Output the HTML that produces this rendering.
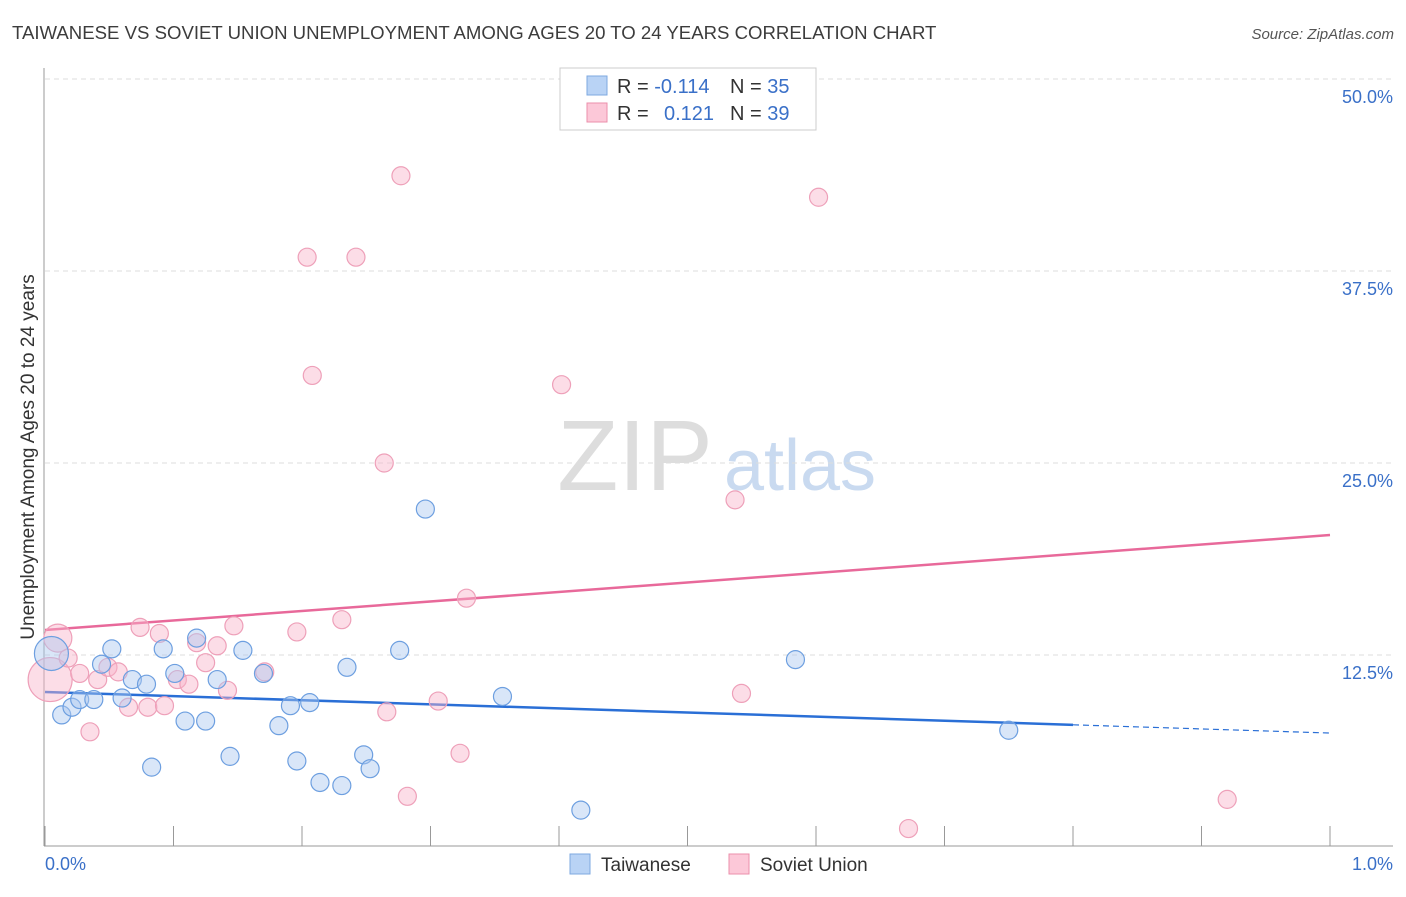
<!DOCTYPE html>
<html><head><meta charset="utf-8">
<style>
body{margin:0;background:#fff;font-family:"Liberation Sans",sans-serif;}
svg text{font-family:"Liberation Sans",sans-serif;}
</style></head>
<body>
<svg id="chart" width="1406" height="892" xmlns="http://www.w3.org/2000/svg">
<text x="12" y="39" font-size="18.6" fill="#3c3c3c">TAIWANESE VS SOVIET UNION UNEMPLOYMENT AMONG AGES 20 TO 24 YEARS CORRELATION CHART</text>
<text x="1394" y="39" font-size="15" fill="#555" font-style="italic" text-anchor="end">Source: ZipAtlas.com</text>
<text transform="translate(34,457) rotate(-90)" font-size="19" fill="#333" text-anchor="middle">Unemployment Among Ages 20 to 24 years</text>
<g>
<text x="635" y="490" font-size="100" fill="#ddd" font-family="Liberation Serif" text-anchor="middle">ZIP</text>
<text x="800" y="490" font-size="72" fill="#c9daf0" text-anchor="middle">atlas</text>
</g>
<g id="grid"></g>
<g id="axes"></g>
<g id="lines"></g>
<g id="points"></g>
<g>
<rect x="560" y="68" width="256" height="62" fill="#fff" stroke="#ccc"/>
<rect x="587" y="76" width="20" height="19" fill="#b9d3f5" stroke="#7ea8e0"/>
<rect x="587" y="103" width="20" height="19" fill="#fcc8d8" stroke="#eb8fab"/>
<text x="617" y="93" font-size="20" fill="#333">R = <tspan fill="#3a70c8">-0.114</tspan></text>
<text x="730" y="93" font-size="20" fill="#333">N = <tspan fill="#3a70c8">35</tspan></text>
<text x="617" y="120" font-size="20" fill="#333">R = </text>
<text x="664" y="120" font-size="20" fill="#3a70c8">0.121</text>
<text x="730" y="120" font-size="20" fill="#333">N = <tspan fill="#3a70c8">39</tspan></text>
</g>
<g>
<rect x="570" y="854" width="20" height="20" fill="#b9d3f5" stroke="#7ea8e0"/>
<text x="601" y="871" font-size="19" fill="#333">Taiwanese</text>
<rect x="729" y="854" width="20" height="20" fill="#fcc8d8" stroke="#eb8fab"/>
<text x="760" y="871" font-size="19" fill="#333">Soviet Union</text>
</g>
</svg>
<script>
const xTickLabels=["0.0%","1.0%"];
const yTicks=[12.5,25,37.5,50];
const yTickLabels=["12.5%","25.0%","37.5%","50.0%"];
const blueX=[0.005,0.013,0.021,0.027,0.038,0.044,0.052,0.060,0.068,0.079,0.083,0.092,0.101,0.109,0.118,0.125,0.134,0.144,0.154,0.170,0.182,0.191,0.196,0.206,0.214,0.231,0.235,0.248,0.253,0.276,0.296,0.356,0.417,0.584,0.750];
const blueY=[12.6,8.6,9.1,9.6,9.6,11.9,12.9,9.7,10.9,10.6,5.2,12.9,11.3,8.2,13.6,8.2,10.9,5.9,12.8,11.3,7.9,9.2,5.6,9.4,4.2,4.0,11.7,6.0,5.1,12.8,22.0,9.8,2.4,12.2,7.6];
const pinkX=[0.004,0.010,0.018,0.027,0.035,0.041,0.049,0.057,0.065,0.074,0.080,0.089,0.093,0.103,0.112,0.118,0.125,0.134,0.142,0.147,0.171,0.196,0.204,0.208,0.231,0.242,0.264,0.266,0.277,0.282,0.306,0.323,0.328,0.402,0.537,0.542,0.602,0.672,0.920];
const pinkY=[10.9,13.6,12.3,11.3,7.5,10.9,11.7,11.4,9.1,14.3,9.1,13.9,9.2,10.9,10.6,13.3,12.0,13.1,10.2,14.4,11.4,14.0,38.4,30.7,14.8,38.4,25.0,8.8,43.7,3.3,9.5,6.1,16.2,30.1,22.6,10.0,42.3,1.2,3.1];
const blueR=[17,9,9,9,9,9,9,9,9,9,9,9,9,9,9,9,9,9,9,9,9,9,9,9,9,9,9,9,9,9,9,9,9,9,9];
const pinkR=[22,14,9,9,9,9,9,9,9,9,9,9,9,9,9,9,9,9,9,9,9,9,9,9,9,9,9,9,9,9,9,9,9,9,9,9,9,9,9];
const blueTrend=[10.09,7.42];
const pinkTrend=[14.13,20.31];
const blueSolidEnd=0.8;

const X=v=>45+v*1285;
const Y=v=>847-v*192/12.5;
const NS="http://www.w3.org/2000/svg";
function mk(tag,attrs,parent){const e=document.createElementNS(NS,tag);for(const k in attrs)e.setAttribute(k,attrs[k]);document.getElementById(parent).appendChild(e);return e;}

yTicks.forEach((t,i)=>{
  const l=mk('line',{x1:45,x2:1393,y1:Y(t),y2:Y(t),stroke:'#ddd','stroke-dasharray':'5,4'},'grid');
  
  
  const tx=mk('text',{x:1393,y:Y(t)+24,'font-size':18,fill:'#3a70c8','text-anchor':'end'},'grid');
  tx.textContent=yTickLabels[i];
  
  
});
const ax=mk('line',{x1:44,x2:44,y1:68,y2:846,stroke:'#999'},'axes');


const bx=mk('line',{x1:44,x2:1393,y1:846,y2:846,stroke:'#999'},'axes');


for(let i=0;i<=10;i++){
  const t=mk('line',{x1:X(i/10),x2:X(i/10),y1:826,y2:846,stroke:'#999'},'axes');
  
  
}
[[0,'start'],[1,'end']].forEach(([v,a],i)=>{
  const t=mk('text',{x:v?1393:45,y:870,'font-size':18,fill:'#3a70c8','text-anchor':a},'axes');
  t.textContent=xTickLabels[i];
  
  
});
const slope=(blueTrend[1]-blueTrend[0]);
const bs=mk('line',{x1:X(0),y1:Y(blueTrend[0]),x2:X(blueSolidEnd),y2:Y(blueTrend[0]+slope*blueSolidEnd),stroke:'#2a6fd6','stroke-width':2.5},'lines');


const bd=mk('line',{x1:X(blueSolidEnd),y1:Y(blueTrend[0]+slope*blueSolidEnd),x2:X(1),y2:Y(blueTrend[1]),stroke:'#2a6fd6','stroke-width':1.2,'stroke-dasharray':'6,4'},'lines');


const pl=mk('line',{x1:X(0),y1:Y(pinkTrend[0]),x2:X(1),y2:Y(pinkTrend[1]),stroke:'#e8699a','stroke-width':2.5},'lines');



pinkX.forEach((x,i)=>{
  const c=mk('circle',{cx:X(x),cy:Y(pinkY[i]),r:pinkR[i],fill:'rgba(248,180,202,0.45)',stroke:'#eea0b9','stroke-width':1.2},'points');
  
  
});
blueX.forEach((x,i)=>{
  const c=mk('circle',{cx:X(x),cy:Y(blueY[i]),r:blueR[i],fill:'rgba(170,200,240,0.45)',stroke:'#6d9fe0','stroke-width':1.2},'points');
  
  
});
</script>
</body></html>
